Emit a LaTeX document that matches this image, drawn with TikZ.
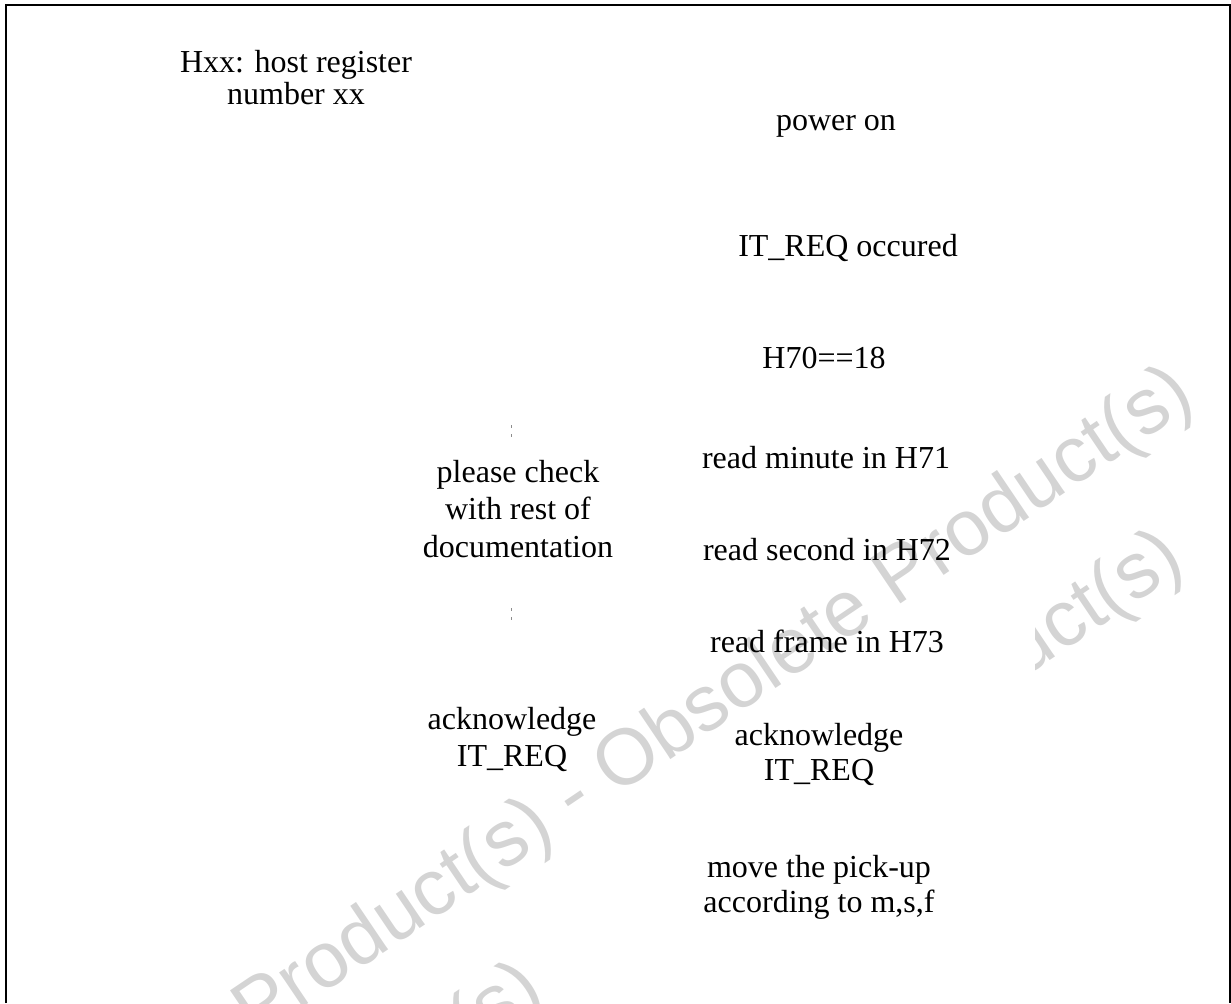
\documentclass[tikz,border=0pt]{standalone}
\usepackage{fontspec}
\setmainfont{Liberation Serif}
\newfontfamily\wmfont{Liberation Sans}
\begin{document}
\begin{tikzpicture}[x=0.5pt,y=-0.5pt,
  lbl/.style={inner sep=0pt, align=center, anchor=base, font=\fontsize{16}{18.5}\selectfont},
  wm/.style={inner sep=0pt, text=black!17, font=\wmfont\fontsize{39.5}{40}\selectfont, rotate=34, anchor=center},
  frameline/.style={line width=1pt},
  tickline/.style={black!45, line width=0.4pt, dash pattern=on 1.5pt off 3pt}]
\useasboundingbox (0,0) rectangle (1231,1003);
% watermark
\begin{scope}
  \clip (380,0) rectangle (549,1003) (1035,0) rectangle (1231,1003);
  \node[wm] (wmB) at (705,869) {Product(s) - Obsolete Product(s)};
\end{scope}
\node[wm] (wmA) at (715,705) {Product(s) - Obsolete Product(s)};
% frame
\draw[frameline] (6,1003) -- (6,5) -- (1230,5) -- (1230,1003);
% labels (anchor = baseline of the last line)
\node[lbl, font=\fontsize{16}{16}\selectfont] (hxx) at (296,104) {Hxx: host register\\number xx};
\node[lbl] (power) at (836,130) {power on};
\node[lbl] (itreq) at (848,256) {IT\_REQ occured};
\node[lbl] (h70) at (824,368) {H70==18};
\node[lbl] (rmin) at (826,468) {read minute in H71};
\node[lbl] (rsec) at (827,560) {read second in H72};
\node[lbl] (rfrm) at (827,652) {read frame in H73};
\node[lbl, font=\fontsize{16}{17.5}\selectfont] (ackR) at (819,780) {acknowledge\\IT\_REQ};
\node[lbl, font=\fontsize{16}{17.5}\selectfont] (move) at (819,912) {move the pick-up\\according to m,s,f};
\node[lbl, font=\fontsize{16}{18.75}\selectfont] (check) at (518,557) {please check\\with rest of\\documentation};
\node[lbl, font=\fontsize{16}{18.5}\selectfont] (ackL) at (512,766) {acknowledge\\IT\_REQ};
% arrow remnants
\coordinate (t1a) at (511,425);
\coordinate (t1b) at (511,441);
\coordinate (t2a) at (511,608);
\coordinate (t2b) at (511,625);
\draw[tickline] (t1a) -- (t1b);
\draw[tickline] (t2a) -- (t2b);
\end{tikzpicture}
\end{document}
